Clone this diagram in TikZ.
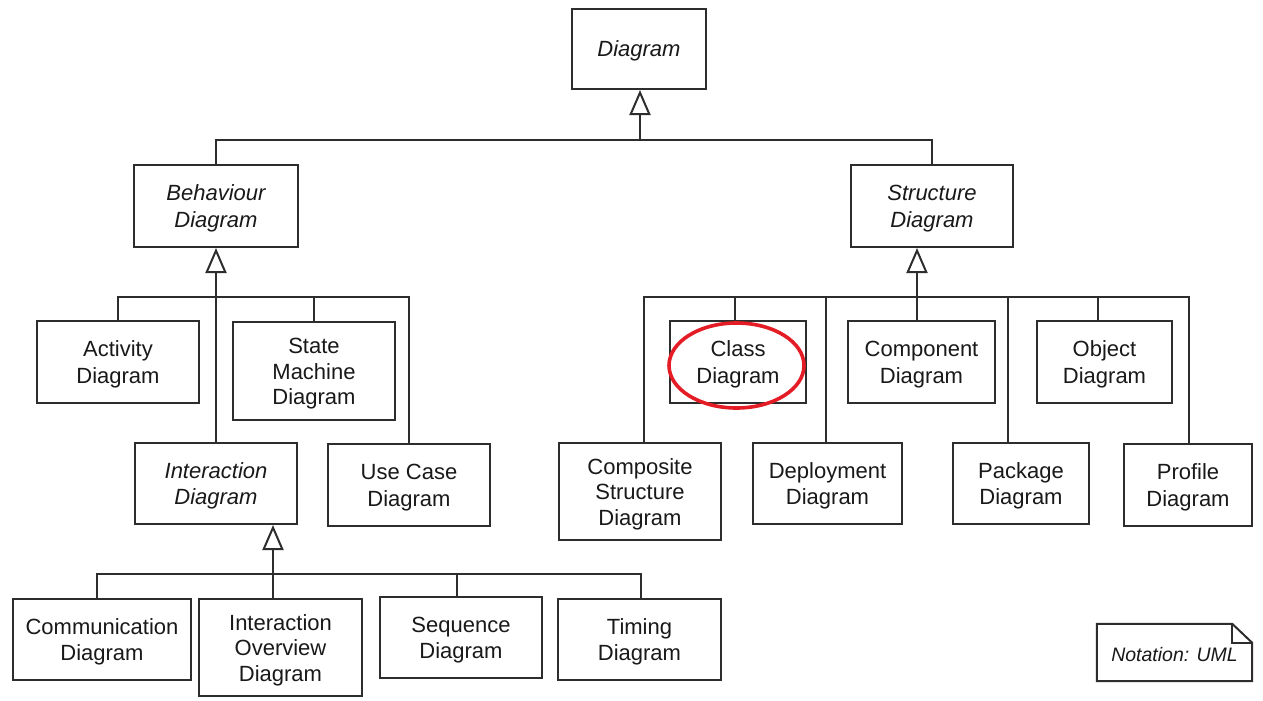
\documentclass[tikz,border=0pt]{standalone}
\usepackage{fontspec}
\setmainfont{Liberation Sans}
\usetikzlibrary{arrows.meta}
\definecolor{linec}{RGB}{45,45,45}
\definecolor{markred}{RGB}{228,28,38}
\newcommand{\tup}{\rule{0pt}{21pt}}
\tikzset{
  box/.style={draw=linec, line width=2pt, fill=white, inner sep=0pt, align=center,
              text=black!90, font=\fontsize{22}{26.5}\selectfont},
  abs/.style={box, font=\fontsize{22}{26.5}\selectfont\itshape},
  three/.style={font=\fontsize{22}{25.5}\selectfont},
  conn/.style={draw=linec, line width=2pt},
  gen/.style={conn, -{Triangle[open, length=25pt, width=21pt]}},
}
\begin{document}
\begin{tikzpicture}[x=1pt, y=-1pt]
\fill[white] (0,0) rectangle (1263,701);
\useasboundingbox (0,0) rectangle (1263,701);

% nodes
\node[abs, minimum width=134, minimum height=80] (diag) at (639,49) {\rule{0pt}{20pt}Diagram};
\node[abs, minimum width=164, minimum height=82] (beh) at (216,206) {\tup Behaviour\\Diagram};
\node[abs, minimum width=162, minimum height=82] (str) at (932,206) {\tup Structure\\Diagram};

\node[box, minimum width=162, minimum height=82] (act) at (118,362) {\tup Activity\\Diagram};
\node[box, three, minimum width=162, minimum height=98] (sm) at (314,371) {\tup State\\Machine\\Diagram};
\node[abs, minimum width=162, minimum height=81] (inter) at (216,483.5) {\tup Interaction\\Diagram};
\node[box, minimum width=162, minimum height=82] (uc) at (409,485) {\tup Use Case\\Diagram};

\node[box, minimum width=178, minimum height=81] (comm) at (102,639.5) {\tup Communication\\Diagram};
\node[box, three, minimum width=163, minimum height=97] (io) at (280.5,647.5) {\tup Interaction\\Overview\\Diagram};
\node[box, minimum width=162, minimum height=81] (seq) at (461,637.5) {\tup Sequence\\Diagram};
\node[box, minimum width=163, minimum height=81] (tim) at (639.5,639.5) {\tup Timing\\Diagram};

\node[box, minimum width=136, minimum height=82] (cls) at (738,362) {\tup Class\\Diagram};
\node[box, minimum width=147, minimum height=82] (cpt) at (921.5,362) {\tup Component\\Diagram};
\node[box, minimum width=135, minimum height=82] (obj) at (1104.5,362) {\tup Object\\Diagram};

\node[box, three, minimum width=162, minimum height=97] (comp) at (640,491.5) {\tup Composite\\Structure\\Diagram};
\node[box, minimum width=149, minimum height=81] (dep) at (827.5,483.5) {\tup Deployment\\Diagram};
\node[box, minimum width=136, minimum height=81] (pkg) at (1021,483.5) {\tup Package\\Diagram};
\node[box, minimum width=128, minimum height=82] (prof) at (1188,485) {\tup Profile\\Diagram};

% top level
\coordinate (tb) at (640,140);
\draw[gen] (tb) -- (tb |- diag.south);
\draw[conn] (beh.north) |- (tb) -| (str.north);

% behaviour
\coordinate (bb) at (216,297);
\draw[gen] (bb |- inter.north) -- (bb |- beh.south);
\draw[conn] (act.north) |- (bb) -| (uc.north);
\draw[conn] (sm.north) -- (sm.north |- bb);

% interaction
\coordinate (ib) at (273,574);
\coordinate (cv) at (97,574);
\coordinate (sv) at (457,574);
\coordinate (tv) at (641,574);
\draw[gen] (ib |- io.north) -- (ib |- inter.south);
\draw[conn] (cv |- comm.north) -- (cv) -- (tv) -- (tv |- tim.north);
\draw[conn] (sv) -- (sv |- seq.north);

% structure
\coordinate (sb) at (917,297);
\coordinate (r1) at (644,297);
\coordinate (r2) at (735,297);
\coordinate (r3) at (826,297);
\coordinate (r5) at (1008,297);
\coordinate (r6) at (1098,297);
\coordinate (r7) at (1189,297);
\draw[gen] (sb |- cpt.north) -- (sb |- str.south);
\draw[conn] (r1 |- comp.north) -- (r1) -- (r7) -- (r7 |- prof.north);
\draw[conn] (r2) -- (r2 |- cls.north);
\draw[conn] (r3) -- (r3 |- dep.north);
\draw[conn] (r5) -- (r5 |- pkg.north);
\draw[conn] (r6) -- (r6 |- obj.north);

% red highlight
\draw[markred, line width=3.6pt] (736.5,365.5) ellipse [x radius=67.5pt, y radius=42.5pt];

% note
\node[inner sep=0pt, minimum width=155, minimum height=57, text=black!90,
      font=\fontsize{19.5}{24}\selectfont\itshape] (note) at (1174.5,652.5) {\rule{0pt}{18pt}Notation: UML};
\draw[conn] (note.north west) -- ([xshift=-20pt]note.north east) -- ([yshift=-19pt]note.north east)
  -- (note.south east) -- (note.south west) -- cycle;
\draw[conn] ([xshift=-20pt]note.north east) -- ([xshift=-20pt,yshift=-19pt]note.north east) -- ([yshift=-19pt]note.north east);
\end{tikzpicture}
\end{document}
